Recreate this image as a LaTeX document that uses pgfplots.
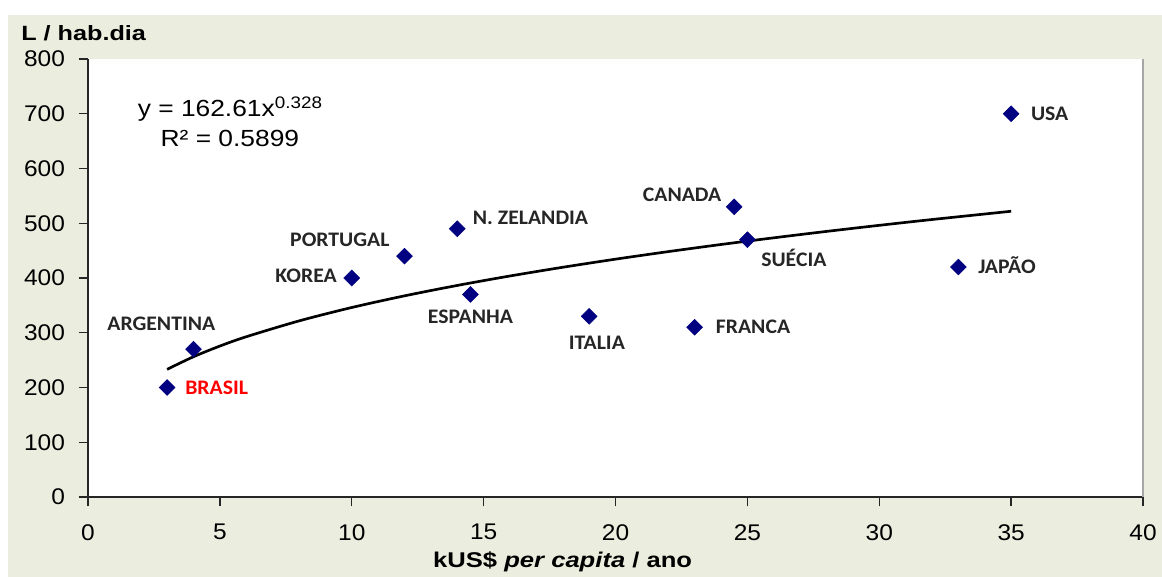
\documentclass[border=0pt]{standalone}
\usepackage{pgfplots}
\pgfplotsset{compat=1.18}
\usepackage{fontspec}
\setmainfont{Liberation Sans}
\newfontfamily\calibri{Carlito}
\definecolor{bggreen}{RGB}{235,238,223}
\definecolor{navy}{RGB}{0,0,128}

\begin{document}
\begin{tikzpicture}
% background frame
\fill[white] (0pt,0pt) rectangle (871.5pt,432.75pt);
\fill[bggreen] (6pt,0pt) rectangle (871.5pt,421.5pt);

\begin{axis}[
    at={(66pt,60pt)}, anchor=south west,
    scale only axis, width=791.25pt, height=328.5pt,
    xmin=0, xmax=40, ymin=0, ymax=800,
    xtick={0,5,...,40}, ytick={0,100,...,800},
    axis background/.style={fill=white},
    axis x line*=bottom, axis y line*=left,
    axis line style={black!85, line width=1.2pt},
    tick align=outside, major tick length=7pt,
    tick style={black!85, line width=1pt},
    xticklabel style={font=\fontsize{17}{19}\selectfont, xscale=1.08, anchor=north, yshift=-10pt},
    yticklabel style={font=\fontsize{17}{19}\selectfont, xscale=1.08, anchor=east, xshift=-6pt},
    /pgf/number format/assume math mode=true,
    clip=false,
]
\draw[black!35, line width=1pt] (rel axis cs:1,0) -- (rel axis cs:1,1);

% power trend line y = 162.61 x^0.328
\addplot[black, line width=2pt, smooth, no marks] coordinates {
(3,233.2) (4,256.2) (5,275.7) (6,292.7) (8,321.6) (10,346.1) (12,367.4)
(14,386.4) (16,403.7) (18,419.6) (20,434.4) (22,448.2) (24,461.2)
(26,473.4) (28,485.1) (30,496.2) (32,506.8) (35,521.9)
};

\addplot[only marks, mark=square*, mark size=4.2pt,
    mark options={rotate=45, fill=navy, draw=navy}] coordinates {
(3,200) (4,270) (10,400) (12,440) (14,490) (14.5,370)
(19,330) (23,310) (24.5,530) (25,470) (33,420) (35,700)
};

\begin{scope}[every node/.style={font=\calibri\bfseries\fontsize{15.5}{17}\selectfont, xscale=1.05, text=black!85, inner sep=0pt}]
\node[anchor=west, xshift=14pt] at (axis cs:35,700) {USA};
\node[anchor=west, xshift=14pt, yshift=1.5pt] at (axis cs:33,420) {JAPÃO};
\node[anchor=east, xshift=-9pt, yshift=9pt] at (axis cs:24.5,530) {CANADA};
\node[anchor=west, xshift=9.75pt, yshift=-13.5pt] at (axis cs:25,470) {SUÉCIA};
\node[anchor=west, xshift=11pt, yshift=8pt] at (axis cs:14,490) {N. ZELANDIA};
\node[anchor=east, xshift=-10.5pt, yshift=12.5pt] at (axis cs:12,440) {PORTUGAL};
\node[anchor=east, xshift=-10.5pt, yshift=1.5pt] at (axis cs:10,400) {KOREA};
\node[anchor=center, yshift=-16.5pt] at (axis cs:14.5,370) {ESPANHA};
\node[anchor=center, xshift=5.5pt, yshift=-20pt] at (axis cs:19,330) {ITALIA};
\node[anchor=west, xshift=15pt] at (axis cs:23,310) {FRANCA};
\node[anchor=center, xshift=-23pt, yshift=18.75pt] at (axis cs:4,270) {ARGENTINA};
\node[anchor=west, xshift=12.75pt, text=red] at (axis cs:3,200) {BRASIL};
\end{scope}

\node[anchor=base, font=\fontsize{17.5}{19}\selectfont, xscale=1.13, inner sep=0pt] at (axis cs:5.38,694.6)
  {y = 162.61x\raisebox{5.8pt}{\fontsize{12.5}{13}\selectfont 0.328}};
\node[anchor=base, font=\fontsize{17.5}{19}\selectfont, xscale=1.13, inner sep=0pt] at (axis cs:5.38,639.3)
  {R² = 0.5899};
\end{axis}

% axis titles
\node[anchor=base west, inner sep=0pt, xscale=1.22, font=\bfseries\fontsize{15.5}{17}\selectfont] at (15.75pt,402pt) {L / hab.dia};
\node[anchor=base, inner sep=0pt, xscale=1.2, font=\bfseries\fontsize{16}{18}\selectfont] at (422pt,6.75pt) {kUS\$ \textit{per capita} / ano};
\end{tikzpicture}
\end{document}
